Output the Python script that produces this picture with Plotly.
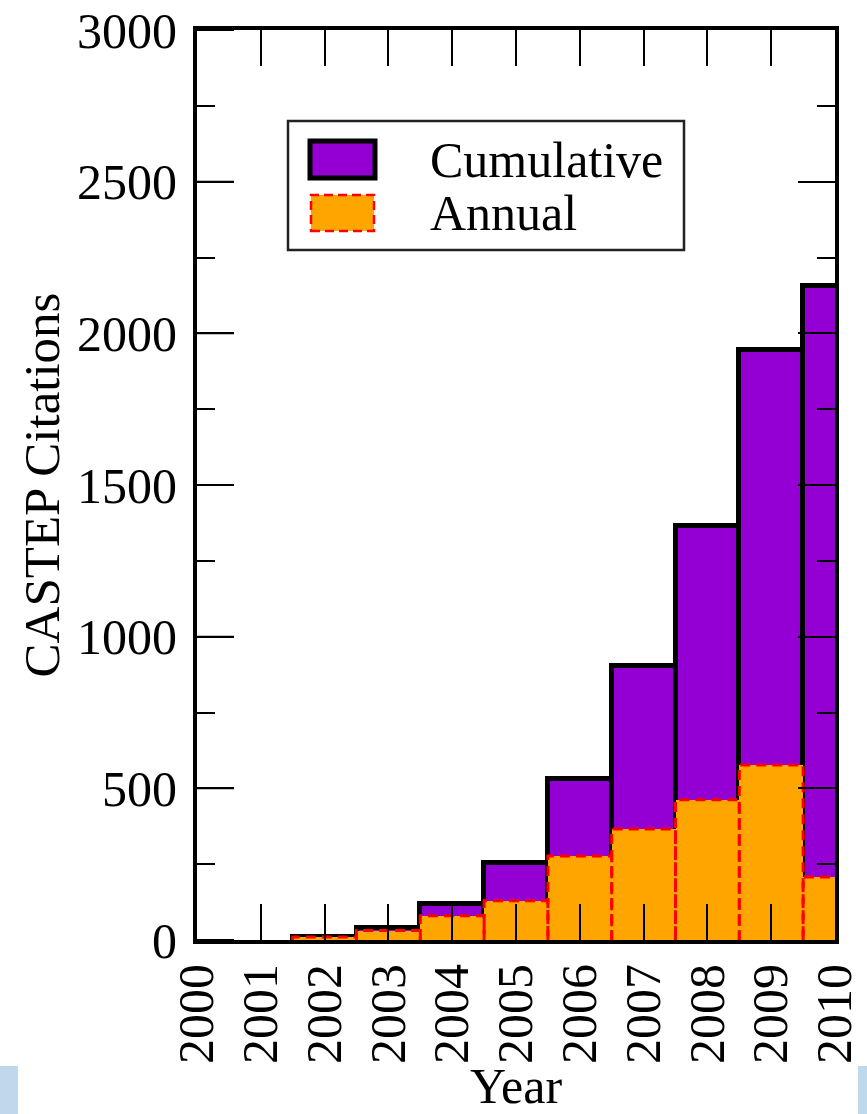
import plotly.graph_objects as go

# ---- data ----
years = [2002, 2003, 2004, 2005, 2006, 2007, 2008, 2009, 2010]
cumulative = [10, 40, 120, 255, 530, 903, 1365, 1945, 2156]
annual = [10, 31, 80, 129, 277, 366, 462, 577, 208]
x_tick_vals = list(range(2000, 2011))
y_tick_vals = [0, 500, 1000, 1500, 2000, 2500, 3000]
y_minor_tick_vals = [250, 750, 1250, 1750, 2250, 2750]
series_names = ["Cumulative", "Annual"]

PURPLE = "#9400D3"
ORANGE = "#FFA500"
RED = "#FF0000"
FONT = "Liberation Serif"
BAR_W = 1.0
X_RANGE = [2000, 2010]
Y_RANGE = [0, 3000]
PLOT_W_PX = 638
MAJOR_TICK_PX = 37

fig = go.Figure()

fig.add_trace(go.Bar(
    x=years, y=cumulative, width=BAR_W, name=series_names[0],
    marker=dict(color=PURPLE, line=dict(color="black", width=5)),
    showlegend=False,
))
fig.add_trace(go.Bar(
    x=years, y=annual, width=BAR_W, name=series_names[1],
    marker=dict(color=ORANGE, line=dict(width=0)),
    showlegend=False,
))

# dashed red outline of the annual bars, derived from the data
ox, oy = [], []
for yr, v in zip(years, annual):
    x0, x1 = yr - BAR_W / 2, yr + BAR_W / 2
    ox += [x0, x0, x1, x1, None]
    oy += [0, v, v, 0, None]
fig.add_trace(go.Scatter(
    x=ox, y=oy, mode="lines", showlegend=False, hoverinfo="skip",
    line=dict(color=RED, width=3, dash="10px,6px"),
))

# inner major tick marks on the left frame, built from the tick values
tick_len_x = MAJOR_TICK_PX * (X_RANGE[1] - X_RANGE[0]) / PLOT_W_PX
tx, ty = [], []
for v in y_tick_vals:
    tx += [X_RANGE[0], X_RANGE[0] + tick_len_x, None]
    ty += [v, v, None]
fig.add_trace(go.Scatter(
    x=tx, y=ty, mode="lines", showlegend=False, hoverinfo="skip",
    line=dict(color="black", width=2),
))

fig.update_layout(
    width=867, height=1114,
    margin=dict(l=197, r=32, t=30, b=174),
    paper_bgcolor="white", plot_bgcolor="rgba(0,0,0,0)",
    barmode="overlay", bargap=0,
    font=dict(family=FONT, color="black", size=50),
    showlegend=False,
)

tick_only_y = dict(
    domain=[0, 1], range=Y_RANGE, showticklabels=False,
    ticks="inside", tickwidth=2, tickcolor="black",
    showline=True, linewidth=4, linecolor="black", mirror="ticks",
    showgrid=False, zeroline=False, layer="above traces", automargin=False,
)

fig.update_layout(
    xaxis=dict(
        range=X_RANGE, tickvals=x_tick_vals, ticktext=[str(v) for v in x_tick_vals],
        tickangle=-90, ticks="inside", ticklen=36, tickwidth=2, tickcolor="black",
        showline=True, linewidth=4, linecolor="black", mirror="ticks",
        showgrid=False, zeroline=False, layer="above traces", automargin=False,
        tickfont=dict(size=50, family=FONT),
        title=dict(text="Year", font=dict(size=50, family=FONT), standoff=0),
    ),
    # main y axis: labels and title
    yaxis=dict(
        range=Y_RANGE, tickvals=y_tick_vals, ticks="",
        showline=True, linewidth=4, linecolor="black", mirror=True,
        showgrid=False, zeroline=False, layer="above traces", automargin=False,
        tickfont=dict(size=50, family=FONT),
        title=dict(text="CASTEP Citations", font=dict(size=51, family=FONT), standoff=2),
        ticklabelstandoff=6,
    ),
    # coincident subplots that only carry the y tick marks (minor, major)
    xaxis2=dict(domain=[0, 1], anchor="y2", range=X_RANGE, visible=False),
    yaxis2=dict(anchor="x2", tickvals=y_minor_tick_vals, ticklen=18, **tick_only_y),
    xaxis3=dict(domain=[0, 1], anchor="y3", range=X_RANGE, visible=False),
    yaxis3=dict(anchor="x3", tickvals=y_tick_vals, ticklen=MAJOR_TICK_PX, **tick_only_y),
)
fig.add_trace(go.Scatter(x=[None], y=[None], xaxis="x2", yaxis="y2",
                         showlegend=False, hoverinfo="skip"))
fig.add_trace(go.Scatter(x=[None], y=[None], xaxis="x3", yaxis="y3",
                         showlegend=False, hoverinfo="skip"))

# ---- manual legend (box, swatches, labels) ----
def px_to_paper_x(px):
    return (px - 197) / 638.0

def px_to_paper_y(py):
    return (940 - py) / 910.0

fig.add_shape(type="rect", xref="paper", yref="paper",
              x0=px_to_paper_x(288), x1=px_to_paper_x(684),
              y0=px_to_paper_y(250), y1=px_to_paper_y(121),
              line=dict(color="#222222", width=2.5), fillcolor="white", layer="above")
fig.add_shape(type="rect", xref="paper", yref="paper",
              x0=px_to_paper_x(310), x1=px_to_paper_x(375),
              y0=px_to_paper_y(178), y1=px_to_paper_y(141),
              line=dict(color="black", width=5), fillcolor=PURPLE, layer="above")
fig.add_shape(type="rect", xref="paper", yref="paper",
              x0=px_to_paper_x(311), x1=px_to_paper_x(374),
              y0=px_to_paper_y(231), y1=px_to_paper_y(195),
              line=dict(color=RED, width=2.5, dash="9px,5px"), fillcolor=ORANGE, layer="above")
fig.add_annotation(xref="paper", yref="paper", x=px_to_paper_x(428), y=px_to_paper_y(160),
                   text=series_names[0], showarrow=False, xanchor="left", yanchor="middle",
                   font=dict(size=50, family=FONT, color="black"))
fig.add_annotation(xref="paper", yref="paper", x=px_to_paper_x(428), y=px_to_paper_y(213),
                   text=series_names[1], showarrow=False, xanchor="left", yanchor="middle",
                   font=dict(size=50, family=FONT, color="black"))

# light blue edge strips visible at the bottom of the reference image
for x0, x1 in [(0, 18), (858, 867)]:
    fig.add_shape(type="rect", xref="paper", yref="paper",
                  x0=(x0 - 197) / 638.0, x1=(x1 - 197) / 638.0,
                  y0=(940 - 1114) / 910.0, y1=(940 - 1066) / 910.0,
                  line=dict(width=0), fillcolor="#BFD8EA", layer="below")

fig.write_html(
    "out.html",
    config={"displayModeBar": False},
    post_script="document.body.style.margin='0';document.body.style.overflow='hidden';",
)
